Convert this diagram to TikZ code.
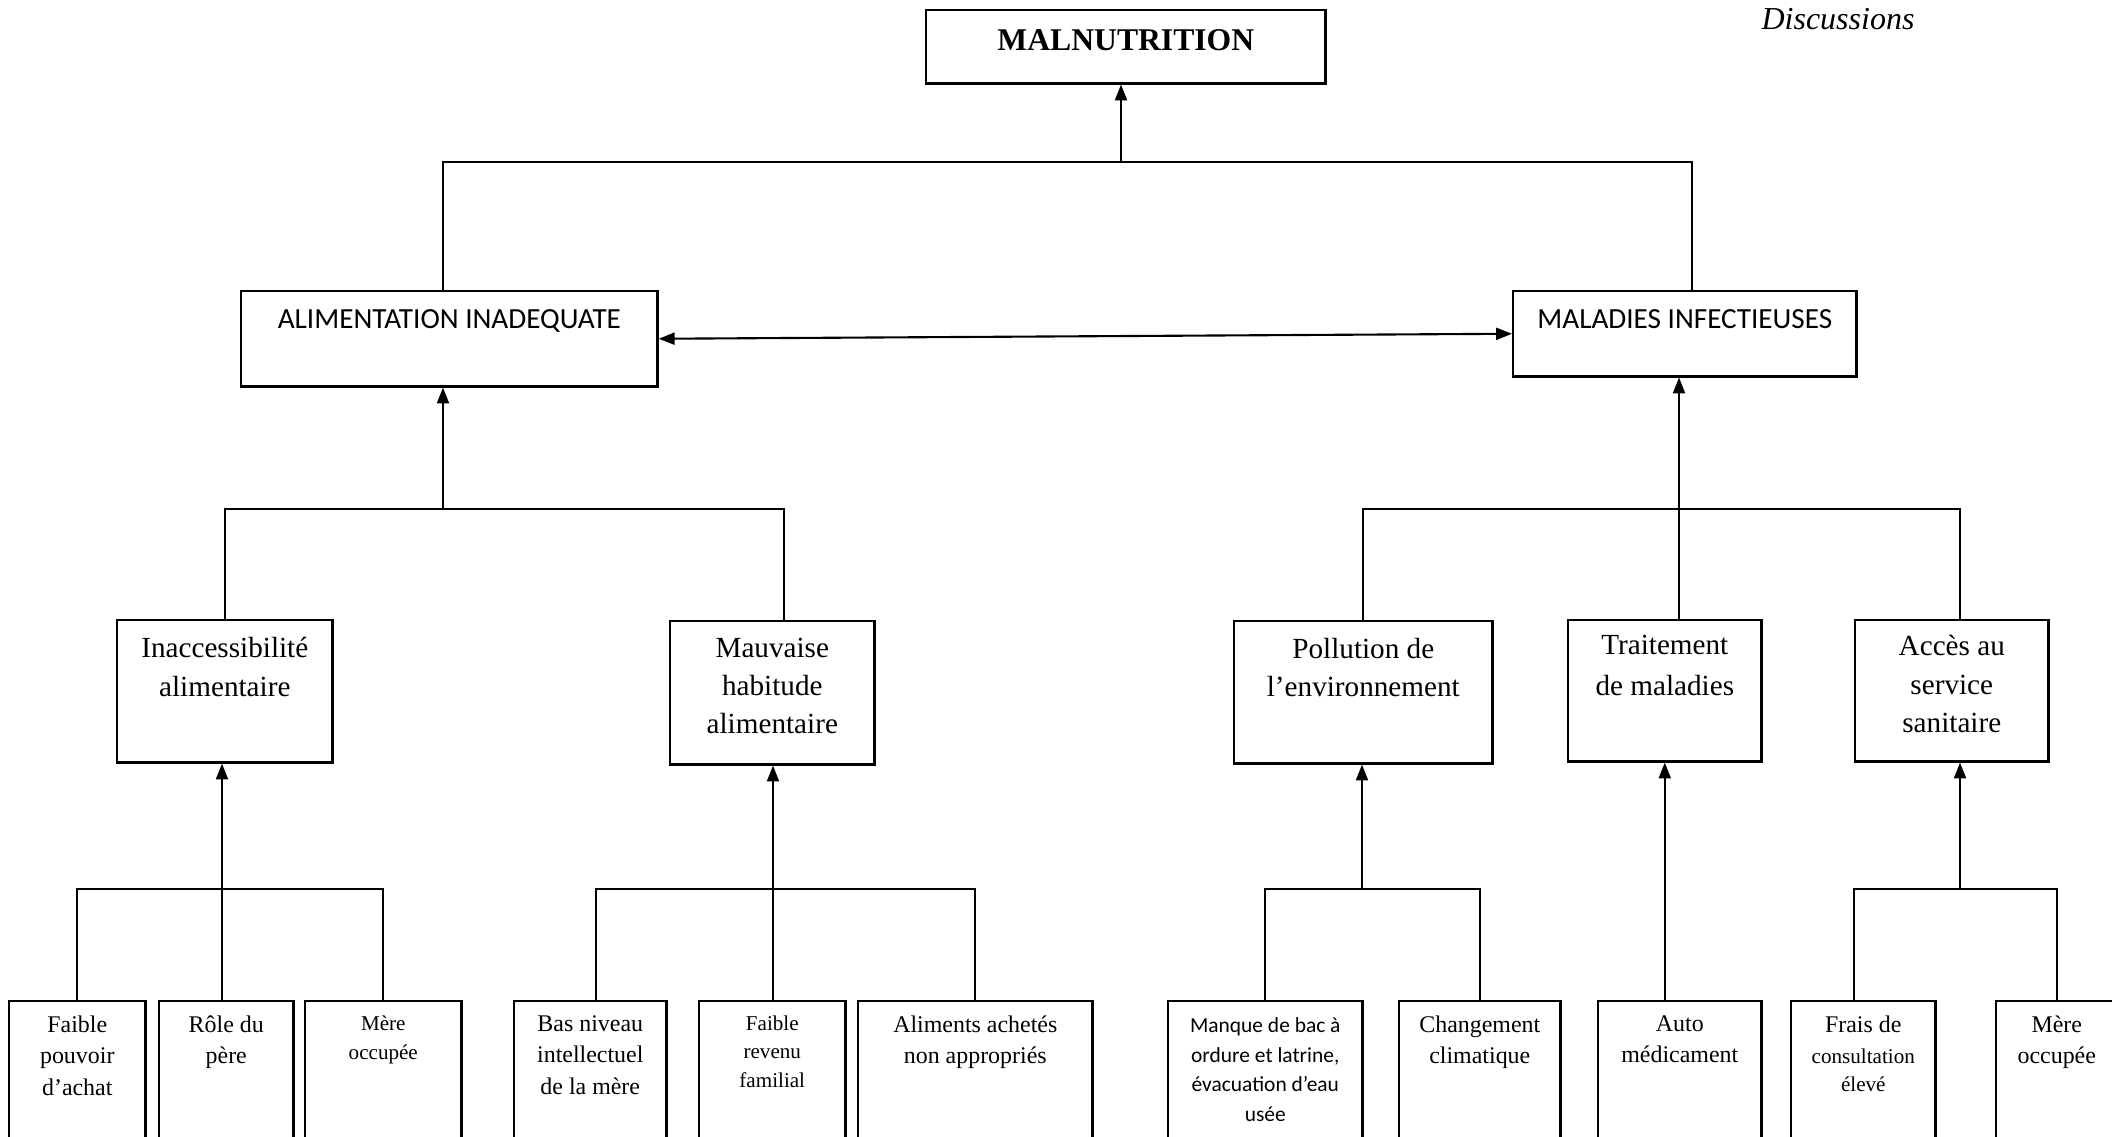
\documentclass[tikz,border=0pt]{standalone}
\usepackage{fontspec}
\setmainfont{Liberation Serif}
\newfontfamily\calib{Carlito}
\usetikzlibrary{positioning,arrows.meta}

\tikzset{
  box/.style 2 args={draw, line width=0.7pt, inner sep=0pt, anchor=north west,
    minimum width=#1, minimum height=#2},
  txt/.style={align=center, inner sep=0pt},
  head/.style={txt, font=\fontsize{8.3}{10}\selectfont\calib},
  mid/.style={txt, font=\fontsize{8.3}{10.9}\selectfont},
  low/.style={txt, font=\fontsize{6.8}{9}\selectfont},
  lowsm/.style={txt, font=\fontsize{6}{8}\selectfont},
  lowsans/.style={txt, font=\fontsize{6.1}{8.5}\selectfont\calib},
}

\begin{document}
\begin{tikzpicture}[x=0.01cm, y=-0.01cm, line width=0.6pt,
    >={Triangle[length=4.5pt,width=3.4pt]}]
  \useasboundingbox (0,0) rectangle (2112,1136);
  \clip (0,0) rectangle (2112,1136);

  % top
  \node[box={3.99cm}{0.73cm}] (malnu) at (925,9) {};
  \node[txt, below=5.4pt of malnu.north, font=\fontsize{9}{11}\selectfont\bfseries] (malnu-t) {MALNUTRITION};
  \node[font=\fontsize{9.1}{11}\selectfont\itshape] (disc) at (1838,19) {Discussions};

  \node[box={4.16cm}{0.95cm}] (ali) at (240,290) {};
  \node[head, below=5.4pt of ali.north] (ali-t) {ALIMENTATION INADEQUATE};
  \node[box={3.43cm}{0.85cm}] (mal) at (1512,290) {};
  \node[head, below=5.4pt of mal.north] (mal-t) {MALADIES INFECTIEUSES};

  % middle row
  \node[box={2.15cm}{1.42cm}] (inac) at (116,619) {};
  \node[mid, below=5pt of inac.north] (inac-t) {Inaccessibilité\\alimentaire};
  \node[box={2.04cm}{1.43cm}] (mauv) at (669,620) {};
  \node[mid, below=4.8pt of mauv.north] (mauv-t) {Mauvaise\\habitude\\alimentaire};
  \node[box={2.58cm}{1.42cm}] (poll) at (1233,620) {};
  \node[mid, below=4.8pt of poll.north] (poll-t) {Pollution de\\l’environnement};
  \node[box={1.93cm}{1.41cm}] (trt) at (1567,619) {};
  \node[mid, below=4.4pt of trt.north] (trt-t) {Traitement\\[0.6pt]de maladies};
  \node[box={1.93cm}{1.41cm}] (acces) at (1854,619) {};
  \node[mid, below=4.4pt of acces.north] (acces-t) {Accès au\\service\\sanitaire};

  % bottom row
  \foreach \n/\x/\w/\s/\g/\t in {
      faible/8/1.36/low/4.1pt/{Faible\\pouvoir\\d’achat},
      role/158/1.34/low/4.1pt/{Rôle du\\père},
      mere1/304/1.56/lowsm/4.3pt/{Mère\\occupée},
      basniv/513/1.52/low/4.1pt/{Bas niveau\\intellectuel\\de la mère},
      revenu/698/1.46/lowsm/4.3pt/{Faible\\revenu\\familial},
      alim2/857/2.34/low/4.1pt/{Aliments achetés\\non appropriés},
      manque/1167/1.94/lowsans/4.6pt/{Manque de bac à\\ordure et latrine,\\évacuation d’eau\\usée},
      chang/1398/1.61/low/4.1pt/{Changement\\climatique},
      auto/1597/1.63/low/4.1pt/{Auto\\médicament},
      frais/1790/1.44/lowsm/4.1pt/{{\fontsize{6.8}{8}\selectfont Frais de}\\[1pt]consultation\\élevé},
      mere2/1995/1.21/low/4.1pt/{Mère\\occupée}} {
    \node[box={\w cm}{1.6cm}] (\n) at (\x,1000) {};
    \node[\s, below=\g of \n.north] (\n-t) {\t};
  }

  % links to the top
  \coordinate (top-bar) at (1121,162);
  \draw (443,0 |- ali.north) |- (top-bar) -| (1692,0 |- mal.north);
  \draw[->] (top-bar) -- (top-bar |- malnu.south);
  \draw[<->] (ali.east) -- (mal.west);

  % links to the middle row
  \coordinate (ali-bar) at (443,509);
  \draw (inac.north) |- (ali-bar) -| (784,0 |- mauv.north);
  \draw[->] (ali-bar) -- (ali-bar |- ali.south);
  \coordinate (mal-bar) at (1679,509);
  \draw (poll.north) |- (mal-bar) -| (1960,0 |- acces.north);
  \draw[->] (mal-bar |- trt.north) -- (mal-bar |- mal.south);

  % links to the bottom row
  \coordinate (inac-bar) at (222,889);
  \draw (faible.north) |- (inac-bar) -| (mere1.north);
  \draw[->] (inac-bar |- role.north) -- (inac-bar |- inac.south);
  \coordinate (mauv-bar) at (773,889);
  \draw (596,0 |- basniv.north) |- (mauv-bar) -| (alim2.north);
  \draw[->] (mauv-bar |- revenu.north) -- (mauv-bar |- mauv.south);
  \coordinate (poll-bar) at (1362,889);
  \draw (manque.north) |- (poll-bar) -| (chang.north);
  \draw[->] (poll-bar) -- (poll-bar |- poll.south);
  \draw[->] (trt.south |- auto.north) -- (trt.south);
  \coordinate (acces-bar) at (1960,889);
  \draw (1854,0 |- frais.north) |- (acces-bar) -| (mere2.north);
  \draw[->] (acces-bar) -- (acces-bar |- acces.south);
\end{tikzpicture}
\end{document}
